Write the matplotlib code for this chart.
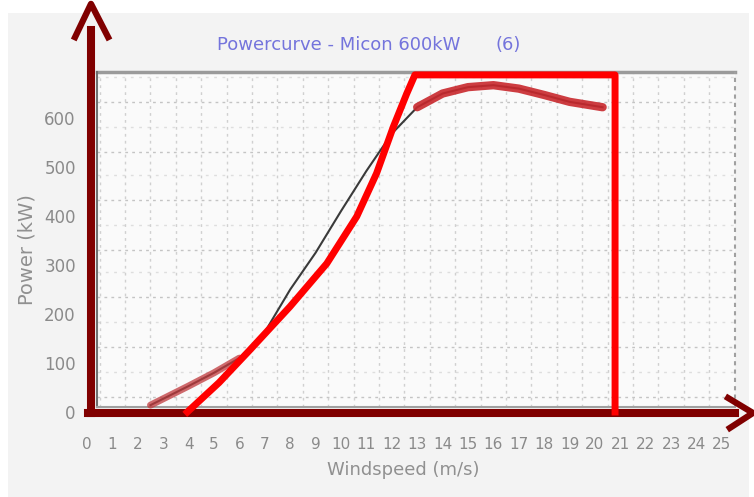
import numpy as np
import matplotlib.pyplot as plt
from matplotlib.patches import Rectangle

# medida (curva de potencia)
windspeed = [2.5, 3, 4, 5, 6, 7, 8, 9, 10, 11, 12, 13, 14, 15, 16, 17, 18, 19, 20.3]
power = [14, 27, 53, 80, 110, 163, 250, 325, 410, 492, 568, 622, 650, 663, 667, 660, 647, 633, 622]

# anotacion roja dibujada encima
red_x = [3.95, 5.2, 6.42, 7.99, 9.44, 10.62, 11.40, 12.06, 12.59, 12.91, 20.79, 20.79]
red_y = [0, 60, 127, 215, 303, 399, 487, 582, 650, 688, 688, 0]

x_ticks = list(range(0, 26))
y_ticks = [0, 100, 200, 300, 400, 500, 600]
grid_y = [31, 133, 235, 331, 433, 531, 633]

fig = plt.figure(figsize=(7.54, 4.97), dpi=100)
fig.patches.append(Rectangle((8/754, 0), 741/754, 484/497, transform=fig.transFigure,
                             facecolor='#f3f3f3', edgecolor='none', zorder=-10))

ax = fig.add_axes([80/754, 77/497, 660/754, 360/497])
ax.set_facecolor('none')
ax.set_xlim(-0.2756, 25.709)
ax.set_ylim(-16.33, 718.4)
for s in ax.spines.values():
    s.set_visible(False)

# caja del grafico
x0, x1, y0, y1 = 0.394, 25.51, 10, 694
ax.add_patch(Rectangle((x0, y0), x1 - x0, y1 - y0, facecolor='#fafafa', edgecolor='none', zorder=0))
ax.hlines(grid_y, x0, x1, colors='#c4c4c4', linestyles=(0, (2, 3)), lw=1, zorder=1)
ax.hlines([g + 50 for g in grid_y], x0, x1, colors='#dedede', linestyles=(0, (2, 4)), lw=1, zorder=1)
ax.vlines(np.arange(0.5, 25.5, 1), y0, y1, colors='#d0d0d0', linestyles=(0, (2, 3)), lw=1, zorder=1)
ax.plot([x0, x1], [y1, y1], color='#9a9a9a', lw=2.5, zorder=2)
ax.plot([x0, x0], [y0, y1], color='#707070', lw=1.5, zorder=2)
ax.plot([x1, x1], [y0, y1], color='#a0a0a0', lw=1.5, ls=(0, (2, 2)), zorder=2)
ax.plot([x0, x1], [y0, y0], color='#a0a0a0', lw=1.5, zorder=2)

# curva medida
ax.plot(windspeed, power, color='#3a3a3a', lw=1.5, zorder=3)
ax.plot(windspeed[11:], power[11:], color='#c8282d', lw=6, alpha=0.9,
        solid_capstyle='round', zorder=4)
ax.plot(windspeed[:5], power[:5], color='#c0393c', lw=5, alpha=0.75,
        solid_capstyle='round', zorder=4)

# flechas de ejes (marron)
ax.plot([0.157, 0.157], [-2, 780], color='#800000', lw=5.8, clip_on=False, zorder=6)
ax.plot([-0.47, 0.157, 0.83], [765, 833, 765], color='#800000', lw=4.5, clip_on=False, zorder=6)
ax.plot([0.03, 25.5], [-2, -2], color='#800000', lw=5.8, clip_on=False, zorder=6)
ax.plot([25.24, 26.22, 25.31], [28.6, -2, -32.6], color='#800000', lw=4.5, clip_on=False, zorder=6)

# anotacion roja
ax.plot(red_x, red_y, color='#ff0000', lw=5, solid_joinstyle='round', clip_on=False, zorder=7)

ax.set_xticks(x_ticks)
ax.set_xticklabels([str(t) for t in x_ticks])
ax.set_yticks(y_ticks)
ax.tick_params(axis='x', length=0, pad=12, labelsize=11, labelcolor='#8a8a8a')
ax.tick_params(axis='y', length=0, pad=3, labelsize=12, labelcolor='#8a8a8a')

fig.text(217/754, 1 - 45/497, 'Powercurve - Micon 600kW', color='#7474dc',
         fontsize=13, ha='left', va='center')
fig.text(508/754, 1 - 45/497, '(6)', color='#7474dc',
         fontsize=13, ha='center', va='center')
fig.text(27/754, 1 - 250/497, 'Power (kW)', color='#909090', fontsize=14,
         rotation=90, ha='center', va='center')
fig.text(403/754, 1 - 470/497, 'Windspeed (m/s)', color='#909090', fontsize=13,
         ha='center', va='center')

plt.savefig('out.png', dpi=100)
